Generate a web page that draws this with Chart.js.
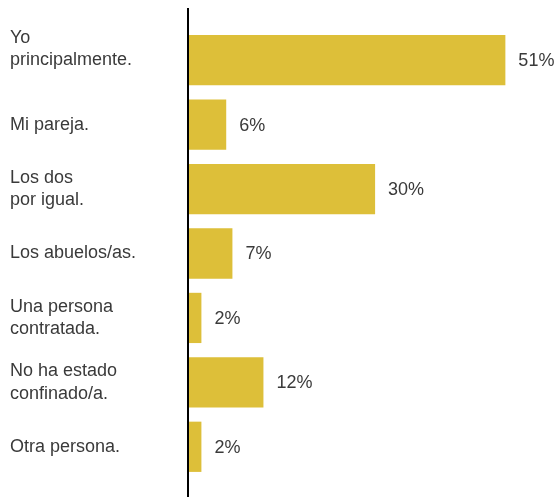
<!DOCTYPE html>
<html>
<head>
<meta charset="utf-8">
<script src="https://cdn.jsdelivr.net/npm/chart.js@4/dist/chart.umd.min.js"></script>
<style>
  html, body { margin: 0; padding: 0; background: #fff; }
  #wrap { width: 558px; height: 497px; position: relative; }
</style>
</head>
<body>
<div id="wrap"><canvas id="grafico"></canvas></div>
<script>
// Datos
const categorias = [
    ['Yo', 'principalmente.', ''],
    ['Mi pareja.'],
    ['Los dos', 'por igual.'],
    ['Los abuelos/as.'],
    ['Una persona', 'contratada.'],
    ['No ha estado', 'confinado/a.'],
    ['Otra persona.']
];
const porcentajes = [51, 6, 30, 7, 2, 12, 2];

const colorBarra = '#DDBF39';
const colorTexto = '#3a3a3a';
const fuente = "'Liberation Sans', Arial, sans-serif";

// Línea vertical del eje y etiquetas de valor
const extras = {
    id: 'extras',
    afterDatasetsDraw(chart) {
        const { ctx, chartArea } = chart;
        ctx.save();
        ctx.strokeStyle = '#000';
        ctx.lineWidth = 2;
        ctx.beginPath();
        ctx.moveTo(chartArea.left - 1, 8);
        ctx.lineTo(chartArea.left - 1, chart.height);
        ctx.stroke();

        ctx.fillStyle = colorTexto;
        ctx.font = '18px ' + fuente;
        ctx.textBaseline = 'middle';
        ctx.textAlign = 'left';
        chart.getDatasetMeta(0).data.forEach((bar, i) => {
            ctx.fillText(porcentajes[i] + '%', bar.x + 13, bar.y + 1);
        });
        ctx.restore();
    }
};

new Chart(document.getElementById('grafico'), {
    type: 'bar',
    data: {
        labels: categorias,
        datasets: [{
            data: porcentajes,
            backgroundColor: colorBarra,
            borderWidth: 0,
            barPercentage: 0.78,
            categoryPercentage: 1
        }]
    },
    options: {
        indexAxis: 'y',
        responsive: true,
        maintainAspectRatio: false,
        animation: false,
        layout: { padding: { left: 10, top: 28, bottom: 18, right: 3 } },
        plugins: {
            legend: { display: false },
            tooltip: { enabled: false }
        },
        scales: {
            x: {
                display: false,
                min: 0,
                max: 59
            },
            y: {
                afterFit: (scale) => {
                    scale.width = 179;
                    scale.paddingTop = 0;
                    scale.paddingBottom = 0;
                },
                grid: { display: false },
                border: { display: false },
                ticks: {
                    autoSkip: false,
                    crossAlign: 'far',
                    color: colorTexto,
                    font: { family: fuente, size: 18, lineHeight: 1.25 }
                }
            }
        }
    },
    plugins: [extras]
});
</script>
</body>
</html>
